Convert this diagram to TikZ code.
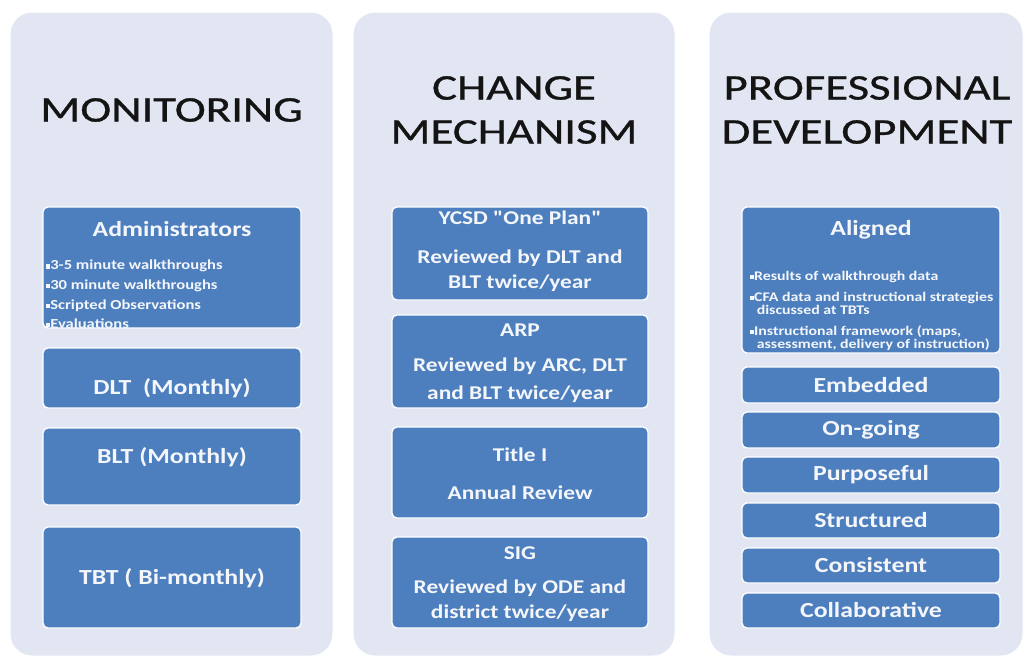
\documentclass[tikz,border=0pt]{standalone}
\usepackage{fontspec}
\setmainfont{Carlito}[FakeStretch=1.2, Ligatures=TeXOff]
\newfontfamily\tfont{Carlito}[FakeStretch=1.3, FakeBold=0.8]
\definecolor{panelc}{HTML}{E1E6F2}
\definecolor{boxc}{HTML}{4D7FBF}
\definecolor{txtc}{HTML}{F4F6FA}
\definecolor{ttlc}{HTML}{141414}
\newcommand\bul{\raisebox{0.2ex}{\rule{0.3em}{0.3em}}}
\begin{document}
\begin{tikzpicture}[x=1pt,y=-1pt,
  panel/.style={fill=panelc, draw=white, line width=1pt, rounded corners=22pt, inner sep=0pt},
  bx/.style={fill=boxc, draw=white, line width=1.3pt, rounded corners=5pt, inner sep=0pt, minimum width=#1},
  bx/.default=258pt,
  ttl/.style={text=ttlc, font=\tfont\fontsize{36}{44}\selectfont, align=center, inner sep=0pt},
  btxt/.style={text=txtc, font=\bfseries\fontsize{21.5}{25}\selectfont, align=center, inner sep=0pt},
  ctxt/.style={text=txtc, font=\bfseries\fontsize{19.5}{25}\selectfont, align=center, inner sep=0pt},
  htxt/.style={text=txtc, font=\bfseries\fontsize{21.5}{26}\selectfont, align=center, inner sep=0pt},
  stxt/.style={text=txtc, font=\bfseries\fontsize{13.8}{19.6}\selectfont, align=left, inner sep=0pt},
  xtxt/.style={text=txtc, font=\bfseries\fontsize{13.2}{13}\selectfont, align=left, inner sep=0pt}]
\useasboundingbox[fill=white] (0,0) rectangle (1030,662);

% panels
\node[panel, minimum width=323pt, minimum height=644pt] (p1) at (171.5,334) {};
\node[panel, minimum width=322pt, minimum height=644pt] (p2) at (514,334) {};
\node[panel, minimum width=314pt, minimum height=644pt] (p3) at (866,334) {};

% titles
\node[ttl] (t1) at (171.5,110) {MONITORING};
\node[ttl] (t2) at (514,110) {CHANGE\\MECHANISM};
\node[ttl] (t3) at (867,110) {PROFESSIONAL\\DEVELOPMENT};

% ---- Monitoring
\node[bx, minimum height=121pt] (adm) at (172,267.5) {};
\node[htxt] (admh) at (172,229) {Administrators};
\begin{scope}
\clip[rounded corners=5pt] (adm.south west) rectangle (adm.north east);
\node[stxt, anchor=north west] (admb) at (46,260) {\bul 3-5 minute walkthroughs\\ \bul 30 minute walkthroughs\\ \bul Scripted Observations\\ \bul Evaluations};
\end{scope}
\node[bx, minimum height=60pt] (dlt) at (172,378) {};
\node[btxt] (dltt) at (172,388) {DLT\ \ (Monthly)};
\node[bx, minimum height=77pt] (blt) at (172,466.5) {};
\node[btxt] (bltt) at (172,457) {BLT (Monthly)};
\node[bx, minimum height=101pt] (tbt) at (172,577.5) {};
\node[btxt] (tbtt) at (172,578) {TBT ( Bi-monthly)};

% ---- Change mechanism
\node[bx=256pt, minimum height=93pt] (ycsd) at (520,253.5) {};
\node[ctxt] (ycsdh) at (520,218) {YCSD "One Plan"};
\node[ctxt, anchor=north] (ycsdt) at (520,250) {Reviewed by DLT and\\BLT twice/year};
\node[bx=256pt, minimum height=93pt] (arp) at (520,361.5) {};
\node[ctxt] (arph) at (520,330) {ARP};
\node[ctxt, anchor=north, font=\bfseries\fontsize{19.5}{28}\selectfont] (arpt) at (520,358) {Reviewed by ARC, DLT\\and BLT twice/year};
\node[bx=256pt, minimum height=91pt] (tit) at (520,472.5) {};
\node[ctxt] (tith) at (520,455) {Title I};
\node[ctxt] (titt) at (520,493) {Annual Review};
\node[bx=256pt, minimum height=91pt] (sig) at (520,582.5) {};
\node[ctxt] (sigh) at (520,553) {SIG};
\node[ctxt, anchor=north] (sigt) at (520,580) {Reviewed by ODE and\\district twice/year};

% ---- Professional development
\node[bx, minimum height=146pt] (ali) at (871,280) {};
\node[htxt] (alih) at (871,230) {Aligned};
\node[xtxt, anchor=north west] (alib) at (750,271) {\bul Results of walkthrough data\\[8pt]
 \bul CFA data and instructional strategies\\ \hspace*{0.5em}discussed at TBTs\\[8pt]
 \bul Instructional framework (maps,\\ \hspace*{0.5em}assessment, delivery of instruction)};
\node[bx, minimum height=36pt] (emb) at (871,385) {};
\node[btxt] (embt) at (871,385) {Embedded};
\node[bx, minimum height=36pt] (ong) at (871,430) {};
\node[btxt] (ongt) at (871,430) {On-going};
\node[bx, minimum height=36pt] (pur) at (871,475) {};
\node[btxt] (purt) at (871,475) {Purposeful};
\node[bx, minimum height=35pt] (str) at (871,520.5) {};
\node[btxt] (strt) at (871,520.5) {Structured};
\node[bx, minimum height=35pt] (con) at (871,565.5) {};
\node[btxt] (cont) at (871,565.5) {Consistent};
\node[bx, minimum height=35pt] (col) at (871,610.5) {};
\node[btxt] (colt) at (871,610.5) {Collaborative};
\end{tikzpicture}
\end{document}
